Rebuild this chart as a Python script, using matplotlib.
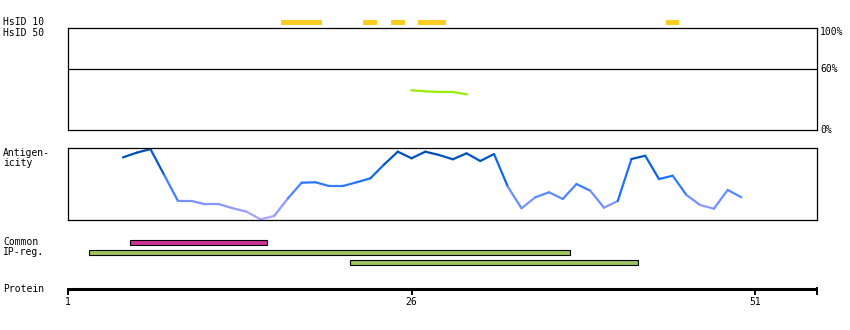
import matplotlib
matplotlib.use("Agg")
import matplotlib.pyplot as plt
import numpy as np
from matplotlib.collections import LineCollection
from matplotlib.colors import LinearSegmentedColormap

# --- data ---
hsid10_res = [17, 18, 19, 23, 25, 27, 28, 45]

hsid50_res = [26, 27, 28, 29, 30]
hsid50_pct = [38.9, 37.9, 37.3, 37.3, 35.0]

antigen_res = list(range(5, 51))
antigen_val = [0.87, 0.935, 0.985, 0.625, 0.264, 0.264, 0.218, 0.218, 0.163, 0.115,
               0.01, 0.056, 0.30, 0.518, 0.524, 0.472, 0.472, 0.524, 0.579, 0.771,
               0.949, 0.857, 0.949, 0.903, 0.843, 0.926, 0.819, 0.917, 0.463, 0.163,
               0.315, 0.385, 0.292, 0.50, 0.407, 0.171, 0.264, 0.847, 0.893, 0.569,
               0.615, 0.347, 0.208, 0.157, 0.417, 0.315]

common_start = [5.5]
common_end = [15.5]
ipreg_start = [2.5, 21.5]
ipreg_end = [37.5, 42.5]

tick_res = [1, 26, 51]
prot_end = 55.5

# --- layout helpers (pixels of an 850x330 figure) ---
W, H = 850, 330
PX = 13.74          # pixels per residue
X0 = 68             # pixel of residue 1
FONT = "DejaVu Sans Mono"
FS = 7


def frac(x, y, w, h):
    return [x / W, 1 - (y + h) / H, w / W, h / H]


fig = plt.figure(figsize=(8.5, 3.3), dpi=100)

# full-figure axes: x in residues, y in pixels
base = fig.add_axes([0, 0, 1, 1])
base.set_xlim(1 - X0 / PX, 1 + (W - X0) / PX)
base.set_ylim(H, 0)
base.axis("off")

# HsID 10 bars
base.barh([22.5] * len(hsid10_res), [1] * len(hsid10_res),
          left=[r - 0.5 for r in hsid10_res], height=5, color="#ffcc22", lw=0)

# Common / IP-reg bars
base.barh([242.5], np.subtract(common_end, common_start), left=common_start,
          height=4.5, color="#cc3399", edgecolor="black", lw=0.8)
base.barh([252.5, 262.5], np.subtract(ipreg_end, ipreg_start), left=ipreg_start,
          height=4.5, color="#9dc45f", edgecolor="black", lw=0.8)

# protein axis
base.plot([1, prot_end], [289.3, 289.3], color="black", lw=2.2, solid_capstyle="butt")
for r in tick_res:
    base.plot([r, r], [289, 293.5], color="black", lw=1.4)
    base.text(r, 302, str(r), ha="center", va="center", fontsize=FS, family=FONT)
base.plot([prot_end, prot_end], [287.5, 293.5], color="black", lw=1.4)

# left labels
labels = [("HsID 10", 22), ("HsID 50", 33), ("Antigen-", 153), ("icity", 163),
          ("Common", 242), ("IP-reg.", 252), ("Protein", 289)]
for txt, y in labels:
    base.text(1 - (X0 - 3) / PX, y, txt, ha="left", va="center", fontsize=FS, family=FONT)

# HsID 50 box
ax1 = fig.add_axes(frac(X0, 28, 749, 102))
ax1.set_xlim(1, prot_end)
ax1.set_ylim(0, 100)
ax1.axhline(60, color="black", lw=0.9)
ax1.plot(hsid50_res, hsid50_pct, color="#99ee00", lw=1.6)
ax1.set_xticks([])
ax1.set_yticks([])
for s in ax1.spines.values():
    s.set_linewidth(0.9)
for v, txt in [(96, "100%"), (60, "60%"), (0, "0%")]:
    ax1.text(1.004, v, txt, transform=ax1.get_yaxis_transform(), ha="left",
             va="center", fontsize=FS, family=FONT)

# Antigenicity box
ax2 = fig.add_axes(frac(X0, 148, 749, 72))
ax2.set_xlim(1, prot_end)
ax2.set_ylim(0, 1)
ax2.set_xticks([])
ax2.set_yticks([])
for s in ax2.spines.values():
    s.set_linewidth(0.9)

cmap = LinearSegmentedColormap.from_list(
    "ag", [(0.0, "#b4a8ff"), (0.2, "#8898ff"), (0.4, "#4a86ff"), (0.55, "#1f72ff"),
           (0.75, "#0a62dd"), (0.9, "#0052b8"), (1.0, "#004caa")])
pts = np.column_stack([antigen_res, antigen_val])
segs = np.stack([pts[:-1], pts[1:]], axis=1)
lc = LineCollection(segs, cmap=cmap, lw=1.6, capstyle="round")
lc.set_array((np.array(antigen_val[:-1]) + np.array(antigen_val[1:])) / 2)
lc.set_clim(0, 1)
lc.set_clip_on(False)
ax2.add_collection(lc)

fig.savefig("out.png", dpi=100)
